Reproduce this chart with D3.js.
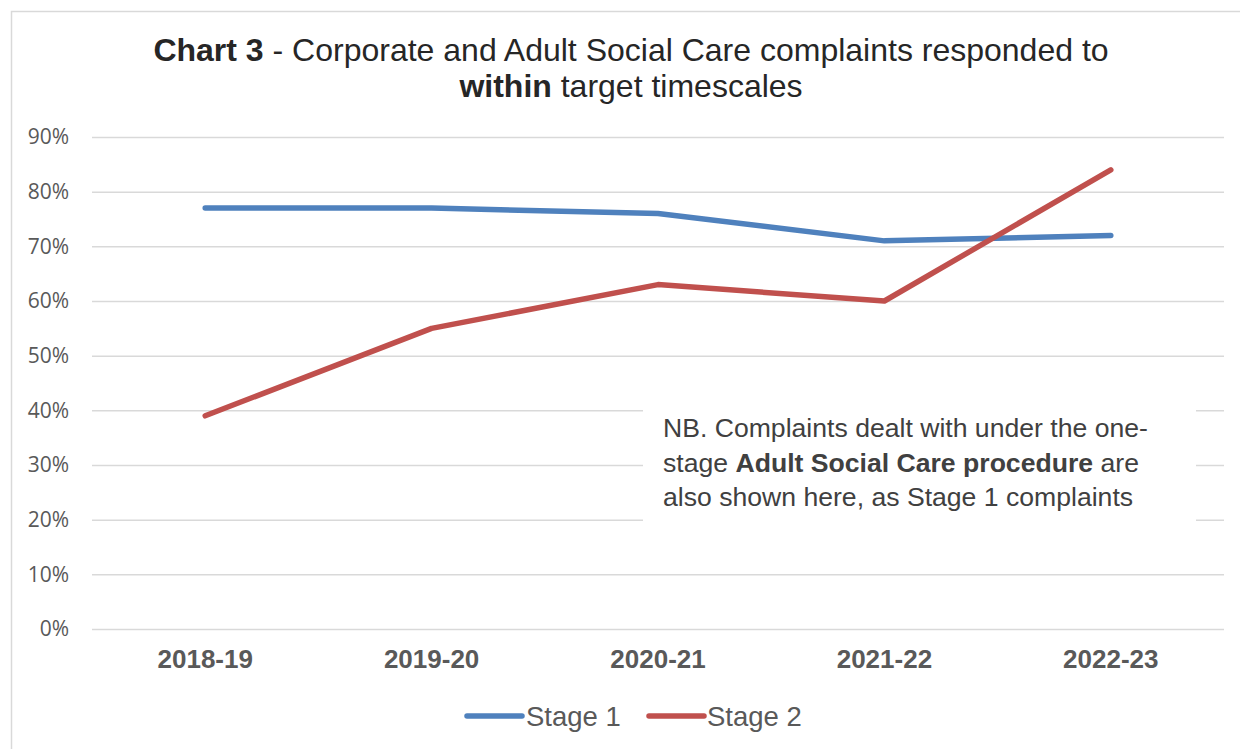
<!DOCTYPE html>
<html>
<head>
<meta charset="utf-8">
<script src="https://cdn.jsdelivr.net/npm/d3@7/dist/d3.min.js"></script>
<style>
  html, body { margin: 0; padding: 0; background: #fff; }
  svg { display: block; }
</style>
</head>
<body>
<svg id="chart" width="1240" height="749"></svg>
<script>
const categories = ["2018-19", "2019-20", "2020-21", "2021-22", "2022-23"];
const stage1 = [0.77, 0.77, 0.76, 0.71, 0.72];
const stage2 = [0.39, 0.55, 0.63, 0.60, 0.84];
const yTicks = [0, 0.1, 0.2, 0.3, 0.4, 0.5, 0.6, 0.7, 0.8, 0.9];
const seriesNames = ["Stage 1", "Stage 2"];
const seriesColors = ["#4f81bd", "#c0504d"];

(function () {
const svg = d3.select("#chart");

svg.append("rect").attr("x", 11.5).attr("y", 11.5).attr("width", 1240).attr("height", 760)
  .attr("fill", "#fff").attr("stroke", "#d9d9d9").attr("stroke-width", 1.5);

const pL = 92, pR = 1224, pT = 137, pB = 629;
const x = d3.scaleBand().domain(categories).range([pL, pR]);
const y = d3.scaleLinear().domain([0, 0.9]).range([pB, pT]);

const yAxis = d3.axisLeft(y).tickValues(yTicks).tickFormat(d3.format(".0%"))
  .tickSize(-(pR - pL)).tickPadding(23);
const gy = svg.append("g").attr("transform", `translate(${pL},0)`).call(yAxis);
gy.select(".domain").remove();
gy.selectAll(".tick line").attr("stroke", "#d9d9d9").attr("stroke-width", 1.5);
gy.selectAll(".tick text").attr("fill", "#595959")
  .style("font-family", "'Open Sans', sans-serif").style("font-size", "21px");

const xAxis = d3.axisBottom(x).tickSize(0).tickPadding(21);
const gx = svg.append("g").attr("transform", `translate(0,${pB})`).call(xAxis);
gx.select(".domain").remove();
gx.selectAll(".tick text").attr("fill", "#595959")
  .style("font-family", "'Liberation Sans', Arial, sans-serif").style("font-size", "26px")
  .style("font-weight", "bold");

const line = d3.line().x((d, i) => x(categories[i]) + x.bandwidth() / 2).y(d => y(d));
[stage1, stage2].forEach((s, k) => {
  svg.append("path").datum(s).attr("d", line).attr("fill", "none")
    .attr("stroke", seriesColors[k]).attr("stroke-width", 5.5)
    .attr("stroke-linecap", "round").attr("stroke-linejoin", "round");
});

svg.append("rect").attr("x", 643).attr("y", 400).attr("width", 553).attr("height", 128).attr("fill", "#fff");
const note = svg.append("text").attr("x", 663).attr("y", 437)
  .attr("fill", "#404040")
  .style("font-family", "'Liberation Sans', Arial, sans-serif").style("font-size", "26.6px");
note.append("tspan").attr("x", 663).attr("dy", 0).text("NB. Complaints dealt with under the one-");
const l2 = note.append("tspan").attr("x", 663).attr("dy", 34.5);
l2.append("tspan").text("stage ");
l2.append("tspan").style("font-weight", "bold").text("Adult Social Care procedure");
l2.append("tspan").text(" are");
note.append("tspan").attr("x", 663).attr("dy", 34.5).text("also shown here, as Stage 1 complaints");

const title = svg.append("text").attr("x", 631).attr("text-anchor", "middle").attr("fill", "#262626")
  .style("font-family", "'Liberation Sans', Arial, sans-serif").style("font-size", "32px");
const t1 = title.append("tspan").attr("x", 631).attr("y", 61);
t1.append("tspan").style("font-weight", "bold").text("Chart 3");
t1.append("tspan").text(" - Corporate and Adult Social Care complaints responded to");
const t2 = title.append("tspan").attr("x", 631).attr("y", 97);
t2.append("tspan").style("font-weight", "bold").text("within");
t2.append("tspan").text(" target timescales");

const legendItems = [{x0: 467, tx: 526}, {x0: 649, tx: 707}];
seriesNames.forEach((n, k) => {
  const g = svg.append("g");
  g.append("line").attr("x1", legendItems[k].x0).attr("x2", legendItems[k].x0 + 55)
    .attr("y1", 716).attr("y2", 716).attr("stroke", seriesColors[k]).attr("stroke-width", 5.5)
    .attr("stroke-linecap", "round");
  g.append("text").attr("x", legendItems[k].tx).attr("y", 726).attr("fill", "#595959")
    .style("font-family", "'Liberation Sans', Arial, sans-serif").style("font-size", "27.5px").text(n);
});
})();
</script>
</body>
</html>
